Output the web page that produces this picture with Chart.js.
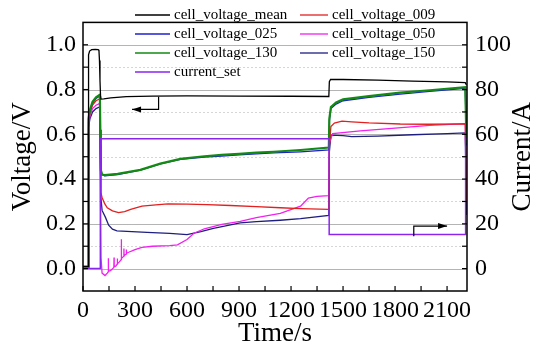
<!DOCTYPE html>
<html><head><meta charset="utf-8">
<script src="https://cdn.jsdelivr.net/npm/chart.js@4/dist/chart.umd.min.js"></script>
<style>html,body{margin:0;padding:0;background:#fff;}canvas{display:block;}</style>
</head><body>
<canvas id="c" width="540" height="351"></canvas>
<script>
// ---------- data ----------
const seriesNames = ['cell_voltage_mean','cell_voltage_009','cell_voltage_025','cell_voltage_050','cell_voltage_130','cell_voltage_150','current_set'];

const tMean = [0, 30, 31, 33, 38, 50, 70, 88, 92, 95, 98, 101, 104, 120, 160, 250, 400, 600, 900, 1200, 1418, 1421, 1428, 1500, 1700, 1900, 2100, 2205, 2212];
const vMean = [0.01, 0.01, 0.90, 0.955, 0.972, 0.978, 0.979, 0.978, 0.975, 0.93, 0.84, 0.775, 0.757, 0.758, 0.763, 0.768, 0.771, 0.772, 0.771, 0.770, 0.769, 0.835, 0.845, 0.845, 0.842, 0.838, 0.834, 0.831, 0.82];

const t009 = [0, 30, 31, 33, 40, 55, 75, 95, 97, 100, 103, 110, 125, 140, 170, 205, 240, 275, 340, 420, 490, 600, 715, 850, 1000, 1138, 1255, 1418, 1421, 1430, 1450, 1494, 1550, 1650, 1830, 2000, 2205, 2212];
const v009 = [0.008, 0.008, 0.60, 0.655, 0.695, 0.73, 0.75, 0.758, 0.756, 0.50, 0.34, 0.318, 0.29, 0.272, 0.258, 0.25, 0.255, 0.265, 0.279, 0.285, 0.289, 0.288, 0.286, 0.282, 0.277, 0.272, 0.268, 0.265, 0.55, 0.635, 0.65, 0.659, 0.656, 0.651, 0.646, 0.645, 0.647, 0.30];

const t025 = [0, 30, 31, 33, 40, 55, 75, 95, 97, 100, 103, 110, 125, 200, 331, 446, 562, 700, 800, 900, 1000, 1100, 1255, 1418, 1421, 1430, 1460, 1500, 1650, 1830, 2000, 2205, 2212];
const v025 = [0.008, 0.008, 0.60, 0.665, 0.705, 0.74, 0.76, 0.77, 0.768, 0.55, 0.44, 0.42, 0.415, 0.42, 0.44, 0.468, 0.488, 0.498, 0.503, 0.508, 0.513, 0.517, 0.522, 0.53, 0.66, 0.715, 0.735, 0.75, 0.765, 0.78, 0.792, 0.805, 0.55];

const t050 = [0, 30, 31, 33, 40, 55, 75, 95, 97, 100, 104, 110, 127, 140, 145, 146, 147, 160, 178, 179, 180, 190, 197, 198, 199, 210, 220, 221, 222, 235, 236, 237, 249, 250, 251, 260, 300, 340, 400, 500, 545, 600, 640, 700, 800, 907, 1000, 1138, 1255, 1300, 1350, 1418, 1421, 1440, 1600, 1800, 2000, 2205, 2212];
const v050 = [0.005, 0.005, 0.58, 0.64, 0.68, 0.715, 0.73, 0.737, 0.735, 0.40, 0.05, -0.02, -0.031, -0.02, -0.015, 0.046, -0.012, -0.008, 0.005, 0.05, 0.008, 0.012, 0.02, 0.045, 0.022, 0.03, 0.04, 0.131, 0.045, 0.055, 0.09, 0.058, 0.065, 0.085, 0.068, 0.072, 0.085, 0.095, 0.10, 0.103, 0.106, 0.13, 0.158, 0.178, 0.198, 0.211, 0.228, 0.247, 0.279, 0.315, 0.323, 0.326, 0.56, 0.603, 0.615, 0.628, 0.64, 0.648, 0.33];

const t130 = t025.slice();
const v130 = [0.008, 0.008, 0.61, 0.67, 0.71, 0.745, 0.765, 0.776, 0.774, 0.62, 0.44, 0.42, 0.418, 0.423, 0.441, 0.469, 0.49, 0.502, 0.508, 0.513, 0.518, 0.522, 0.53, 0.541, 0.67, 0.722, 0.742, 0.756, 0.771, 0.786, 0.797, 0.811, 0.56];

const t150 = [0, 30, 31, 33, 40, 55, 75, 95, 97, 100, 103, 110, 129, 148, 170, 196, 369, 500, 600, 680, 752, 907, 1000, 1138, 1255, 1418, 1421, 1430, 1500, 1550, 1700, 1900, 2100, 2205, 2212];
const v150 = [0.008, 0.008, 0.58, 0.63, 0.67, 0.70, 0.715, 0.722, 0.72, 0.50, 0.32, 0.26, 0.23, 0.194, 0.176, 0.169, 0.162, 0.157, 0.152, 0.165, 0.18, 0.204, 0.21, 0.216, 0.223, 0.238, 0.52, 0.596, 0.594, 0.59, 0.592, 0.598, 0.603, 0.606, 0.24];

const tCur = [0, 100, 100, 1420, 1420, 2207, 2207, 2215];
const vCur = [0, 0, 58, 58, 15.2, 15.2, 58, 58];

// axis tick labels
const xTickLabels = [0, 300, 600, 900, 1200, 1500, 1800, 2100];
const yLeftTickLabels = [0.0, 0.2, 0.4, 0.6, 0.8, 1.0];
const yRightTickLabels = [0, 20, 40, 60, 80, 100];

// annotation arrows (data units)
const arrowLeftPts = [[436, 0.768], [436, 0.711], [283, 0.711]];   // left axis units
const arrowRightPts = [[1908, 14.5], [1908, 19], [2100, 19]];       // right axis units

// ---------- styling ----------
const colors = ['#000000', '#e3201f', '#1f1fd0', '#f21ff0', '#138a13', '#1e1e80', '#8a25ee'];
const SERIF = "'Liberation Serif','Times New Roman',serif";

function pts(t, v) { return t.map((x, i) => ({x: x, y: v[i]})); }
const seriesData = [pts(tMean, vMean), pts(t009, v009), pts(t025, v025), pts(t050, v050), pts(t130, v130), pts(t150, v150), pts(tCur, vCur)];
const drawOrder = [1, 4, 3, 5, 2, 6, 0];
const widths = [1.3, 1.3, 1.3, 1.3, 2.2, 1.3, 1.5];

const datasets = seriesNames.map((n, i) => ({
  label: n, data: seriesData[i], borderColor: colors[i], backgroundColor: colors[i],
  borderWidth: widths[i], pointRadius: 0, tension: 0, fill: false,
  yAxisID: i === 6 ? 'y2' : 'y', order: drawOrder[i]
}));

function arrow(ctx, p, color) {
  ctx.strokeStyle = color; ctx.fillStyle = color; ctx.lineWidth = 1.2;
  ctx.beginPath(); ctx.moveTo(p[0][0], p[0][1]); ctx.lineTo(p[1][0], p[1][1]); ctx.lineTo(p[2][0], p[2][1]); ctx.stroke();
  const dx = p[2][0] - p[1][0], dy = p[2][1] - p[1][1];
  const L = Math.hypot(dx, dy), ux = dx / L, uy = dy / L;
  const hl = 9, hw = 3;
  ctx.beginPath();
  ctx.moveTo(p[2][0], p[2][1]);
  ctx.lineTo(p[2][0] - ux * hl - uy * hw, p[2][1] - uy * hl + ux * hw);
  ctx.lineTo(p[2][0] - ux * hl + uy * hw, p[2][1] - uy * hl - ux * hw);
  ctx.closePath(); ctx.fill();
}

const decor = {
  id: 'decor',
  beforeDatasetsDraw(chart) {
    const {ctx, chartArea: a, scales} = chart;
    const y = scales.y;
    const step = yLeftTickLabels[1] - yLeftTickLabels[0];
    ctx.save();
    ctx.lineWidth = 1;
    yLeftTickLabels.forEach(v => {
      const py = Math.round(y.getPixelForValue(v)) + 0.5;
      ctx.setLineDash([]); ctx.strokeStyle = '#b4b4b4';
      ctx.beginPath(); ctx.moveTo(a.left, py); ctx.lineTo(a.right, py); ctx.stroke();
      const m = v + step / 2;
      if (m < y.max) {
        const pm = Math.round(y.getPixelForValue(m)) + 0.5;
        ctx.setLineDash([2, 2]); ctx.strokeStyle = '#d6d6d6';
        ctx.beginPath(); ctx.moveTo(a.left, pm); ctx.lineTo(a.right, pm); ctx.stroke();
      }
    });
    ctx.restore();
  },
  afterDatasetsDraw(chart) {
    const {ctx, chartArea: a, scales} = chart;
    const x = scales.x, y = scales.y, y2 = scales.y2;
    ctx.save();
    arrow(ctx, arrowLeftPts.map(p => [x.getPixelForValue(p[0]), y.getPixelForValue(p[1])]), '#000');
    arrow(ctx, arrowRightPts.map(p => [x.getPixelForValue(p[0]), y2.getPixelForValue(p[1])]), '#000');
    ctx.setLineDash([]);
    ctx.strokeStyle = '#000'; ctx.lineWidth = 1.5;
    ctx.strokeRect(a.left, a.top, a.right - a.left, a.bottom - a.top);
    ctx.lineWidth = 1.2;
    const tl = 5;
    const xs = (xTickLabels[1] - xTickLabels[0]) / 2;
    for (let v = xTickLabels[0]; v <= x.max; v += xs) {
      const px = x.getPixelForValue(v);
      ctx.beginPath(); ctx.moveTo(px, a.bottom); ctx.lineTo(px, a.bottom - tl); ctx.stroke();
    }
    const ys = (yLeftTickLabels[1] - yLeftTickLabels[0]) / 2;
    for (let k = -1; k <= 11; k++) {
      const v = yLeftTickLabels[0] + k * ys;
      if (v <= y.min + 1e-9 || v >= y.max - 1e-9) continue;
      const py = y.getPixelForValue(v);
      ctx.beginPath(); ctx.moveTo(a.left, py); ctx.lineTo(a.left + tl, py); ctx.stroke();
    }
    const y2s = (yRightTickLabels[1] - yRightTickLabels[0]) / 2;
    for (let k = -1; k <= 11; k++) {
      const v = yRightTickLabels[0] + k * y2s;
      if (v <= y2.min || v >= y2.max) continue;
      const py = y2.getPixelForValue(v);
      ctx.beginPath(); ctx.moveTo(a.right, py); ctx.lineTo(a.right - tl, py); ctx.stroke();
    }
    const cols = [{l0: 135, l1: 170, tx: 174}, {l0: 300, l1: 328, tx: 332}];
    const rows = [15, 34, 53, 72];
    ctx.font = '15px ' + SERIF; ctx.textBaseline = 'middle'; ctx.textAlign = 'left';
    seriesNames.forEach((n, i) => {
      const c = cols[i % 2], r = rows[Math.floor(i / 2)];
      ctx.strokeStyle = colors[i]; ctx.lineWidth = 1.3;
      ctx.beginPath(); ctx.moveTo(c.l0, r); ctx.lineTo(c.l1, r); ctx.stroke();
      ctx.fillStyle = '#000'; ctx.fillText(n, c.tx, r);
    });
    ctx.restore();
  },
  afterDraw(chart) {
    const {ctx, chartArea: a} = chart;
    const cy = (a.top + a.bottom) / 2;
    ctx.save();
    ctx.fillStyle = '#000'; ctx.font = '27px ' + SERIF;
    ctx.textAlign = 'center'; ctx.textBaseline = 'middle';
    ctx.fillText('Time/s', (a.left + a.right) / 2, 334);
    ctx.save(); ctx.translate(23, cy); ctx.rotate(-Math.PI / 2); ctx.fillText('Voltage/V', 0, 0); ctx.restore();
    ctx.save(); ctx.translate(523, cy); ctx.rotate(-Math.PI / 2); ctx.fillText('Current/A', 0, 0); ctx.restore();
    ctx.restore();
  }
};

const tickFont = {family: SERIF, size: 24};
new Chart(document.getElementById('c'), {
  type: 'line',
  data: {datasets: datasets},
  options: {
    responsive: false, animation: false, devicePixelRatio: 1,
    layout: {padding: {top: 7, left: 0, right: 0, bottom: 0}},
    plugins: {legend: {display: false}, tooltip: {enabled: false}},
    scales: {
      x: {
        type: 'linear', min: 0, max: 2215,
        grid: {display: false, drawTicks: false}, border: {display: false},
        afterBuildTicks: s => { s.ticks = xTickLabels.map(v => ({value: v})); },
        ticks: {autoSkip: false, maxRotation: 0, padding: 5, color: '#000', font: tickFont, callback: v => String(v)},
        afterFit: s => { s.height = 60; }
      },
      y: {
        type: 'linear', position: 'left', min: -0.1, max: 1.1,
        grid: {display: false, drawTicks: false}, border: {display: false},
        afterBuildTicks: s => { s.ticks = yLeftTickLabels.map(v => ({value: v})); },
        ticks: {autoSkip: false, padding: 7, color: '#000', font: tickFont, callback: v => Number(v).toFixed(1)},
        afterFit: s => { s.width = 83; }
      },
      y2: {
        type: 'linear', position: 'right', min: -10, max: 110,
        grid: {display: false, drawTicks: false}, border: {display: false},
        afterBuildTicks: s => { s.ticks = yRightTickLabels.map(v => ({value: v})); },
        ticks: {autoSkip: false, padding: 8, color: '#000', font: tickFont, callback: v => String(v)},
        afterFit: s => { s.width = 73; }
      }
    }
  },
  plugins: [decor]
});
</script>
</body></html>
